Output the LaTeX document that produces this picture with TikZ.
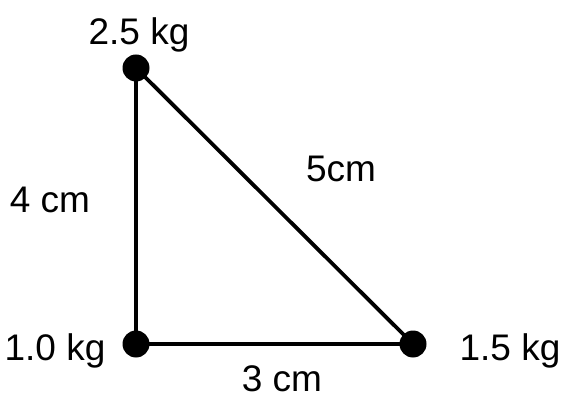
\documentclass[tikz,border=0pt]{standalone}
\usepackage{fontspec}
\setmainfont{Liberation Sans}
\begin{document}
\begin{tikzpicture}[x=1pt,y=-1pt,
  mass/.style={circle,fill=black,inner sep=0pt,minimum size=27pt},
  lbl/.style={font=\fontsize{37}{40}\selectfont,inner sep=0pt},
  side/.style={line width=3.8pt}]
\useasboundingbox (0,0) rectangle (565,398);
\node[mass] (A) at (136,68) {};
\node[mass] (B) at (136,344) {};
\node[mass] (C) at (413,344) {};
\draw[side] (A.center) -- (B.center) -- (C.center) -- (A.center);
\node[lbl] (la) at (139,35) {2.5 kg};
\node[lbl] (lb) at (55,351) {1.0 kg};
\node[lbl] (lc) at (510,351) {1.5 kg};
\node[lbl] (s1) at (50,200) {4 cm};
\node[lbl] (s2) at (341,169) {5cm};
\node[lbl] (s3) at (282,379) {3 cm};
\end{tikzpicture}
\end{document}
